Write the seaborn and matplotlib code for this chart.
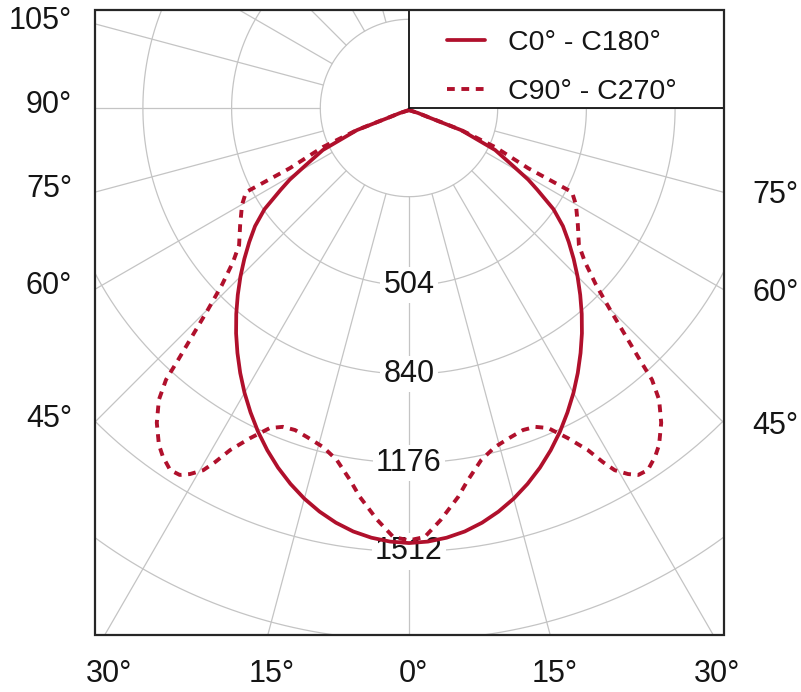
import numpy as np
import pandas as pd
import matplotlib
matplotlib.use("Agg")
import matplotlib.pyplot as plt
from matplotlib.patches import Rectangle
import seaborn as sns

# half curves (both planes are symmetric), gamma angle from nadir in degrees,
# listed in drawing order from the nadir up to the pole
c0_angle = [0, 2.5, 5, 7.5, 10, 12.5, 15, 17.5, 20, 22.5, 25, 27.5, 30, 32.5, 35,
            37.5, 40, 42.5, 45, 47.5, 50, 52.5, 55, 57.5, 59, 61, 64, 67, 64.5, 61, 0]
c0_cd = [1480, 1476, 1466, 1450, 1427, 1398, 1364, 1325, 1282, 1235, 1185, 1132,
         1078, 1022, 965, 908, 850, 792, 735, 678, 622, 567, 500, 408, 359, 280,
         195, 46, -88, -129, -160]

c90_angle = [0, 2.1, 4.4, 7.2, 9.0, 11.6, 14.2, 17.2, 19.5, 21.6, 23.5, 25.7, 27.6,
             28.7, 29.6, 30.9, 32.0, 33.4, 35.2, 36.6, 38.7, 40.6, 41.8, 42.5, 43.6,
             44.9, 46.6, 48.8, 51.1, 55.3, 59.9, 62.7, 62.8, 63.2, 65.6, 67.1, 64.7,
             61, 0]
c90_cd = [1470, 1458, 1397, 1317, 1259, 1193, 1157, 1137, 1126, 1131, 1154, 1220,
          1294, 1361, 1410, 1448, 1471, 1475, 1449, 1421, 1360, 1288, 1213, 1127,
          1019, 912, 807, 718, 659, 610, 563, 527, 479, 337, 190, 46, -88, -129, -160]

series_labels = ["C0° - C180°", "C90° - C270°"]
ring_values = [168, 504, 840, 1176, 1512, 1848]
ring_labels = [504, 840, 1176, 1512]
left_angles = [105, 90, 75, 60, 45]
right_angles = [75, 60, 45]
bottom_angles = [-30, -15, 0, 15, 30]

RED = "#b0102c"
GRID = "#c4c4c4"
INK = "#151515"


def full_curve(angle, cd):
    a = np.radians(np.asarray(angle, dtype=float))
    v = np.asarray(cd, dtype=float)
    theta = np.concatenate([-a[::-1], a[1:]])
    r = np.concatenate([v[::-1], v[1:]])
    return pd.DataFrame({"theta": theta, "cd": r})


sns.set_theme(style="white")
plt.rcParams["font.family"] = ["Liberation Sans", "DejaVu Sans"]

W, H = 801, 692
fig = plt.figure(figsize=(W / 100, H / 100), dpi=100)

# pole position and frame in image pixels
CX, CY = 409, 108
BL, BT, BR, BB = 95, 10, 724, 635
PX_PER_CD = 88.7 / 336
R_MIN, R_MAX = -168, 2200
rad = (R_MAX - R_MIN) * PX_PER_CD

ax = fig.add_axes([(CX - rad) / W, (H - CY - rad) / H, 2 * rad / W, 2 * rad / H],
                  projection="polar")
ax.set_theta_zero_location("S")
ax.set_ylim(R_MIN, R_MAX)
ax.set_facecolor("none")
ax.grid(False)
ax.set_xticks([])
ax.set_yticks([])
ax.spines["polar"].set_visible(False)

# grid: rings and spokes starting at the first ring
tt = np.linspace(0, 2 * np.pi, 721)
for r in ring_values:
    ax.plot(tt, np.full_like(tt, r), color=GRID, lw=0.9, zorder=1)
for a in range(0, 360, 15):
    ax.plot([np.radians(a)] * 2, [ring_values[0], R_MAX], color=GRID, lw=0.9, zorder=1)

for v in ring_labels:
    ax.text(0, v, str(v), ha="center", va="center", fontsize=22, color=INK, zorder=3,
            bbox=dict(boxstyle="square,pad=0.1", fc="white", ec="none"))

df0 = full_curve(c0_angle, c0_cd)
df90 = full_curve(c90_angle, c90_cd)
sns.lineplot(data=df0, x="theta", y="cd", sort=False, estimator=None, color=RED,
             lw=2.7, zorder=4, ax=ax, legend=False)
sns.lineplot(data=df90, x="theta", y="cd", sort=False, estimator=None, color=RED,
             lw=2.8, linestyle=(0, (2.0, 1.7)), zorder=4, ax=ax, legend=False)
ax.set_xlabel("")
ax.set_ylabel("")
curves = ax.lines[-2:]

clip = Rectangle((BL / W, 1 - BB / H), (BR - BL) / W, (BB - BT) / H,
                 transform=fig.transFigure, fill=False)
for ln in ax.lines:
    ln.set_clip_path(clip)

# frame
fig.add_artist(Rectangle((BL / W, 1 - BB / H), (BR - BL) / W, (BB - BT) / H,
                         transform=fig.transFigure, fill=False, ec="#262626",
                         lw=1.6, zorder=7))

# legend box
fig.add_artist(Rectangle((CX / W, 1 - CY / H), (BR - CX) / W, (CY - BT) / H,
                         transform=fig.transFigure, fc="white", ec="#111111",
                         lw=1.3, zorder=5))
leg = fig.legend(curves, series_labels, loc="upper left",
                 bbox_to_anchor=(447 / W, 1 - 30 / H), frameon=False, fontsize=20.5,
                 handlelength=1.35, handletextpad=0.8, labelspacing=0.8,
                 borderpad=0, borderaxespad=0)
leg.set_zorder(6)
for t in leg.get_texts():
    t.set_color(INK)

# angle labels where the spokes meet the frame
for a in left_angles:
    y = CY + (CX - BL) / np.tan(np.radians(a)) - 3
    fig.text(72 / W, 1 - y / H, f"{a}°", ha="right", va="center", fontsize=22, color=INK)
for a in right_angles:
    y = CY + (BR - CX) / np.tan(np.radians(a)) + 3
    fig.text(752 / W, 1 - y / H, f"{a}°", ha="left", va="center", fontsize=22, color=INK)
for a in bottom_angles:
    x = CX + (BB - CY) * np.tan(np.radians(a)) + 4
    fig.text(x / W, 1 - 674 / H, f"{abs(a)}°", ha="center", va="center", fontsize=22,
             color=INK)

fig.savefig("out.png", dpi=100)
